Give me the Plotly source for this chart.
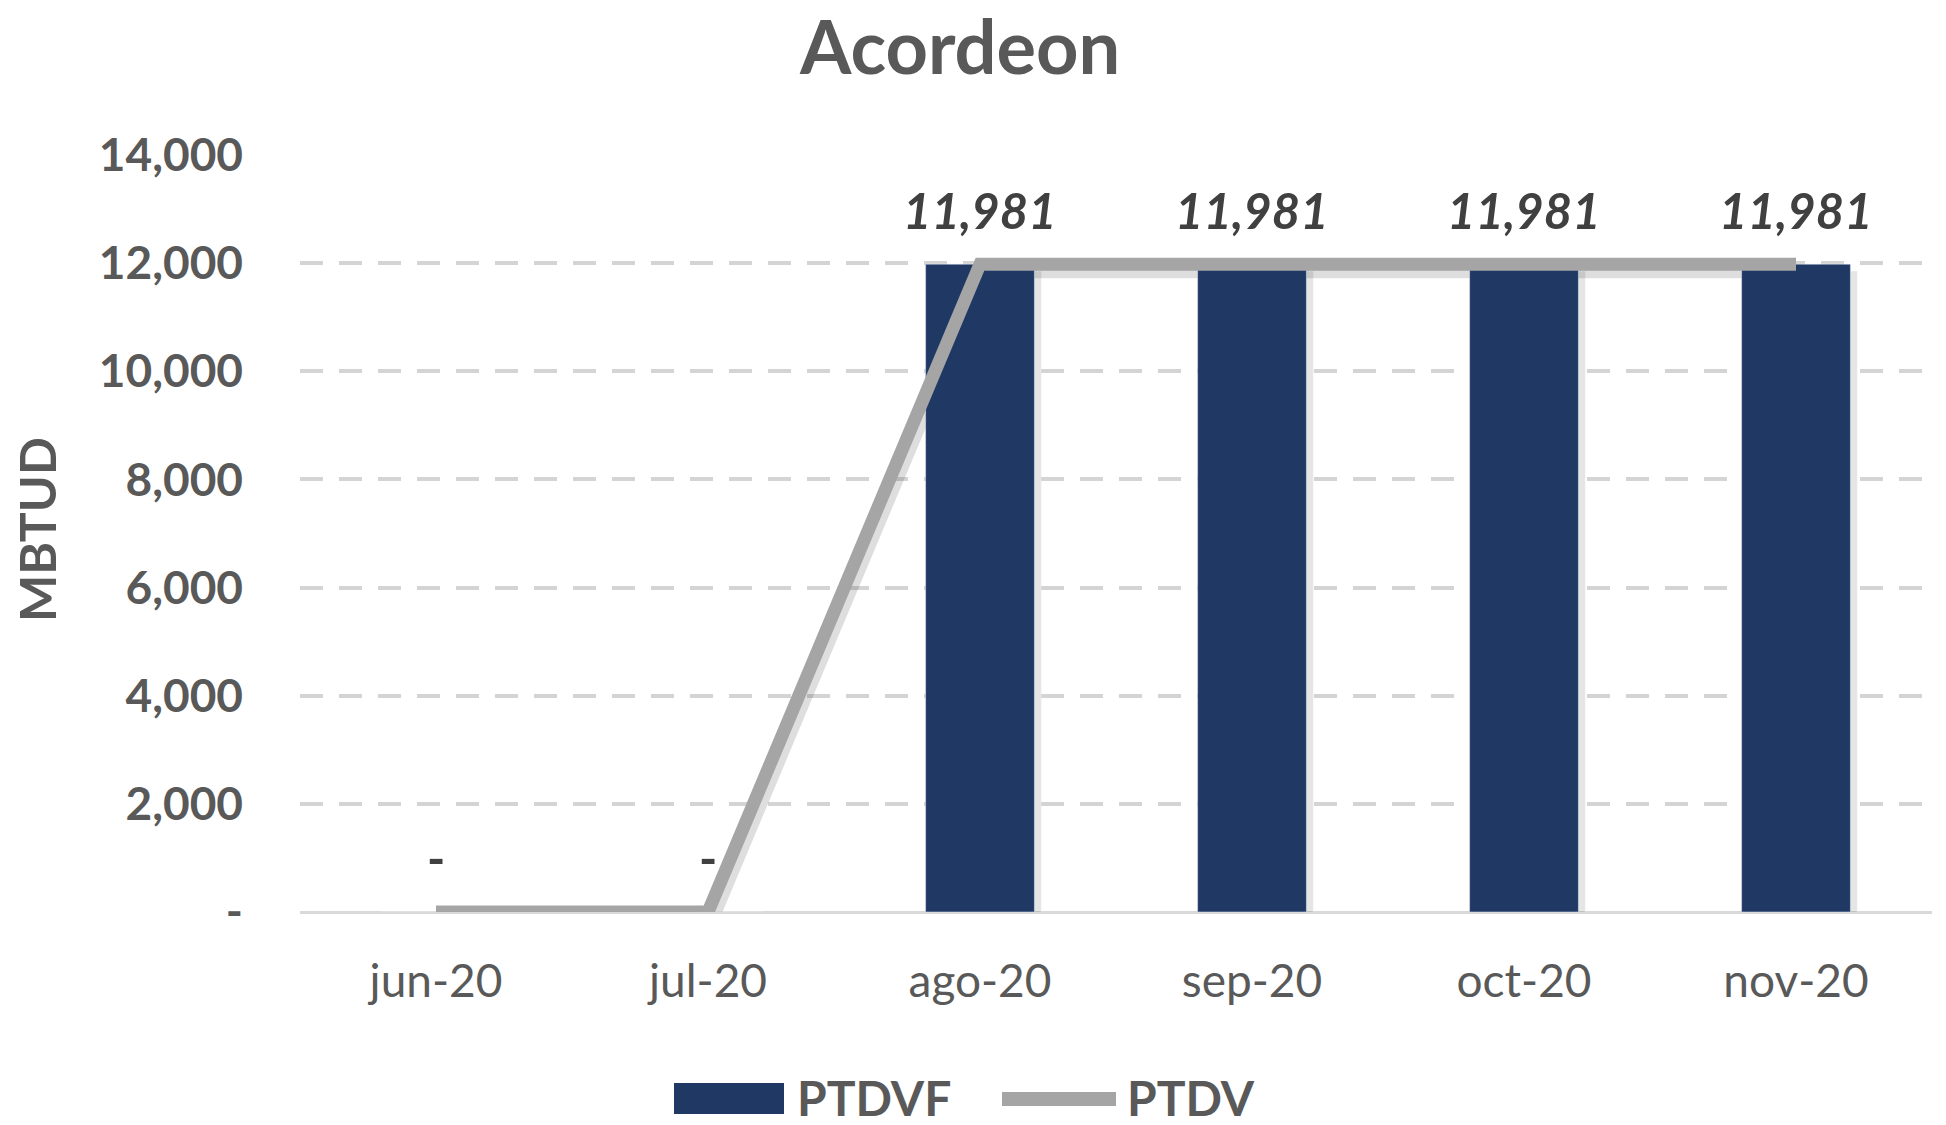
import plotly.graph_objects as go

categories = ["jun-20", "jul-20", "ago-20", "sep-20", "oct-20", "nov-20"]
ptdvf = [0, 0, 11981, 11981, 11981, 11981]
ptdv = [0, 0, 11981, 11981, 11981, 11981]
ytick_vals = [0, 2000, 4000, 6000, 8000, 10000, 12000, 14000]
ytick_text = ["-", "2,000", "4,000", "6,000", "8,000", "10,000", "12,000", "14,000"]

FONT = "Lato"
GREY = "#595959"
NAVY = "#1F3864"
LINE = "#A5A5A5"

W, H = 1946, 1125
L, R, T, B = 300, 14, 155, 213
pw, ph = W - L - R, H - T - B
YMAX = 14000

# shadow offset in pixels (right, down) expressed as axis range shifts
SDX, SDY = 4, 7
dx = SDX * 6 / pw
dy = SDY * YMAX / ph


def px(x):
    return (x - L) / pw


def py(y):
    return (H - B - y) / ph


fig = go.Figure()
# shadow layer (subplot 2)
fig.add_trace(go.Bar(x=categories, y=ptdvf, marker_color="rgba(0,0,0,0.10)",
                     width=0.42, showlegend=False, hoverinfo="skip",
                     xaxis="x2", yaxis="y2"))
fig.add_trace(go.Scatter(x=categories, y=ptdv, mode="lines",
                         line=dict(color="rgba(0,0,0,0.13)", width=14),
                         showlegend=False, hoverinfo="skip",
                         xaxis="x2", yaxis="y2"))
# main layer (subplot 3)
fig.add_trace(go.Bar(x=categories, y=ptdvf, name="PTDVF", marker_color=NAVY,
                     width=0.4, showlegend=False, xaxis="x3", yaxis="y3"))
fig.add_trace(go.Scatter(x=categories, y=ptdv, name="PTDV", mode="lines",
                         line=dict(color=LINE, width=13), showlegend=False,
                         xaxis="x3", yaxis="y3"))

annotations = []
for c, v in zip(categories, ptdvf):
    annotations.append(dict(x=c, y=v, xref="x", yref="y", yshift=54,
                            text=f"<b><i>{v:,}</i></b>" if v else "<b>-</b>",
                            showarrow=False, yanchor="middle",
                            font=dict(family=FONT, size=49, color="#404040")))

# chart title
annotations.append(dict(x=px(959), y=py(45), xref="paper", yref="paper",
                        text="<b>Acordeon</b>", showarrow=False,
                        xanchor="center", yanchor="middle",
                        font=dict(family=FONT, size=74, color=GREY)))
# y axis title
annotations.append(dict(x=px(37), y=py(530), xref="paper", yref="paper",
                        text="<b>MBTUD</b>", textangle=-90, showarrow=False,
                        xanchor="center", yanchor="middle",
                        font=dict(family=FONT, size=50, color=GREY)))
# legend texts
annotations.append(dict(x=px(795), y=py(1097), xref="paper", yref="paper",
                        text="<b>PTDVF</b>", showarrow=False, xanchor="left",
                        yanchor="middle", font=dict(family=FONT, size=48, color=GREY)))
annotations.append(dict(x=px(1125), y=py(1097), xref="paper", yref="paper",
                        text="<b>PTDV</b>", showarrow=False, xanchor="left",
                        yanchor="middle", font=dict(family=FONT, size=48, color=GREY)))

shapes = [
    dict(type="rect", xref="paper", yref="paper", x0=px(674), x1=px(784),
         y0=py(1114), y1=py(1083), fillcolor=NAVY, line=dict(width=0)),
    dict(type="line", xref="paper", yref="paper", x0=px(1002), x1=px(1116),
         y0=py(1099), y1=py(1099), line=dict(color=LINE, width=14)),
]

hidden = dict(visible=False, showgrid=False, zeroline=False)

fig.update_layout(
    width=W, height=H,
    margin=dict(l=L, r=R, t=T, b=B),
    paper_bgcolor="white", plot_bgcolor="rgba(0,0,0,0)",
    annotations=annotations,
    shapes=shapes,
    font=dict(family=FONT, color=GREY),
    xaxis=dict(type="category", categoryarray=categories, range=[-0.5, 5.5],
               showgrid=False, showline=False, zeroline=False, ticks="",
               tickfont=dict(family=FONT, size=46, color=GREY),
               ticklabelstandoff=38),
    yaxis=dict(range=[0, YMAX], tickvals=ytick_vals,
               ticktext=[f"<b>{t}</b>" for t in ytick_text],
               showgrid=True, gridcolor="#D4D4D4", gridwidth=4,
               griddash="23px,16px", zeroline=True, zerolinecolor="#D9D9D9",
               zerolinewidth=3, showline=False, ticks="",
               tickfont=dict(family=FONT, size=46, color=GREY),
               ticklabelstandoff=56),
    xaxis2=dict(type="category", categoryarray=categories,
                range=[-0.5 - dx, 5.5 - dx], anchor="y2", **hidden),
    yaxis2=dict(range=[dy, YMAX + dy], anchor="x2", **hidden),
    xaxis3=dict(type="category", categoryarray=categories,
                range=[-0.5, 5.5], anchor="y3", **hidden),
    yaxis3=dict(range=[0, YMAX], anchor="x3", **hidden),
)

fig.write_html("out.html", config={"displayModeBar": False},
               post_script="document.body.style.margin='0';")
